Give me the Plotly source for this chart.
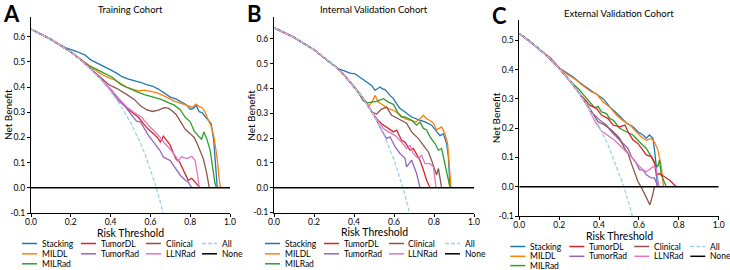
import plotly.graph_objects as go

# ---------------- data ----------------
MODELS = ["Stacking", "MILDL", "MILRad", "TumorDL", "TumorRad", "Clinical", "LLNRad"]
PANEL_TITLES = ["Training Cohort", "Internal Validation Cohort", "External Validation Cohort"]
PANEL_LETTERS = ["A", "B", "C"]
X_TICKS = [0.0, 0.2, 0.4, 0.6, 0.8, 1.0]
X_TICK_TEXT = ["0.0", "0.2", "0.4", "0.6", "0.8", "1.0"]
Y_TICKS_AB = [-0.1, 0.0, 0.1, 0.2, 0.3, 0.4, 0.5, 0.6]
Y_TICK_TEXT_AB = ["-0.1", "0.0", "0.1", "0.2", "0.3", "0.4", "0.5", "0.6"]
Y_TICKS_C = [-0.1, 0.0, 0.1, 0.2, 0.3, 0.4, 0.5]
Y_TICK_TEXT_C = ["-0.1", "0.0", "0.1", "0.2", "0.3", "0.4", "0.5"]

# ---- Panel A : Training cohort ----
A_ALL_T = [0, 0.05, 0.1, 0.15, 0.2, 0.25, 0.3, 0.35, 0.4, 0.45, 0.5, 0.525, 0.55, 0.575, 0.6, 0.625, 0.65, 0.665]
A_ALL_NB = [0.63, 0.611, 0.589, 0.565, 0.538, 0.507, 0.471, 0.431, 0.383, 0.327, 0.26, 0.221, 0.178, 0.129, 0.075, 0.013, -0.057, -0.104]

A_STACKING_T = [0, 0.1, 0.18, 0.23, 0.27, 0.3, 0.33, 0.36, 0.4, 0.43, 0.46, 0.49, 0.52, 0.55, 0.58, 0.61, 0.64, 0.67, 0.7, 0.73, 0.76, 0.78, 0.8, 0.815, 0.83, 0.845, 0.86, 0.875, 0.89, 0.905, 0.918, 0.926, 0.932, 0.936]
A_STACKING_NB = [0.63, 0.589, 0.554, 0.541, 0.528, 0.508, 0.496, 0.487, 0.468, 0.455, 0.44, 0.431, 0.426, 0.419, 0.41, 0.404, 0.392, 0.375, 0.36, 0.352, 0.338, 0.33, 0.312, 0.315, 0.327, 0.302, 0.298, 0.285, 0.268, 0.255, 0.19, 0.12, 0.05, 0.0]
A_MILDL_T = [0, 0.1, 0.2, 0.25, 0.3, 0.34, 0.38, 0.42, 0.45, 0.48, 0.51, 0.54, 0.57, 0.6, 0.63, 0.66, 0.69, 0.72, 0.75, 0.78, 0.81, 0.83, 0.845, 0.86, 0.875, 0.89, 0.905, 0.92, 0.935, 0.945, 0.952]
A_MILDL_NB = [0.63, 0.589, 0.539, 0.51, 0.478, 0.458, 0.44, 0.428, 0.415, 0.4, 0.392, 0.385, 0.388, 0.384, 0.378, 0.368, 0.356, 0.344, 0.336, 0.327, 0.32, 0.332, 0.322, 0.318, 0.3, 0.27, 0.245, 0.2, 0.12, 0.04, 0.0]
A_MILRAD_T = [0, 0.1, 0.2, 0.25, 0.29, 0.33, 0.37, 0.41, 0.45, 0.49, 0.53, 0.57, 0.61, 0.65, 0.69, 0.72, 0.75, 0.775, 0.8, 0.82, 0.84, 0.857, 0.869, 0.883, 0.9, 0.913, 0.924, 0.932]
A_MILRAD_NB = [0.63, 0.589, 0.539, 0.509, 0.485, 0.47, 0.455, 0.438, 0.41, 0.395, 0.382, 0.37, 0.362, 0.352, 0.338, 0.328, 0.31, 0.28, 0.262, 0.225, 0.207, 0.193, 0.222, 0.195, 0.15, 0.085, 0.02, 0.0]
A_TUMORDL_T = [0, 0.1, 0.2, 0.25, 0.3, 0.35, 0.4, 0.44, 0.48, 0.51, 0.54, 0.565, 0.59, 0.615, 0.635, 0.65, 0.665, 0.682, 0.698, 0.715, 0.73, 0.745, 0.76, 0.775, 0.79, 0.808, 0.825, 0.84, 0.85]
A_TUMORDL_NB = [0.63, 0.589, 0.539, 0.508, 0.473, 0.434, 0.39, 0.352, 0.318, 0.298, 0.28, 0.255, 0.232, 0.215, 0.2, 0.182, 0.205, 0.188, 0.172, 0.138, 0.112, 0.105, 0.08, 0.052, 0.03, 0.038, 0.022, 0.006, 0.0]
A_TUMORRAD_T = [0, 0.1, 0.2, 0.25, 0.3, 0.35, 0.4, 0.44, 0.47, 0.5, 0.53, 0.55, 0.57, 0.59, 0.615, 0.632, 0.648, 0.665, 0.682, 0.7, 0.715, 0.73, 0.75, 0.775, 0.79, 0.8, 0.81]
A_TUMORRAD_NB = [0.63, 0.589, 0.539, 0.508, 0.472, 0.433, 0.388, 0.345, 0.325, 0.295, 0.265, 0.262, 0.236, 0.208, 0.182, 0.162, 0.148, 0.122, 0.116, 0.108, 0.09, 0.072, 0.05, 0.03, 0.022, 0.01, 0.0]
A_CLINICAL_T = [0, 0.1, 0.2, 0.25, 0.3, 0.35, 0.39, 0.43, 0.46, 0.49, 0.52, 0.55, 0.58, 0.61, 0.64, 0.67, 0.69, 0.71, 0.73, 0.75, 0.775, 0.8, 0.82, 0.835, 0.85, 0.866, 0.883, 0.896]
A_CLINICAL_NB = [0.63, 0.589, 0.539, 0.508, 0.473, 0.437, 0.41, 0.395, 0.382, 0.366, 0.35, 0.326, 0.31, 0.303, 0.308, 0.318, 0.316, 0.305, 0.29, 0.262, 0.232, 0.215, 0.2, 0.175, 0.148, 0.116, 0.057, 0.0]
A_LLNRAD_T = [0, 0.1, 0.2, 0.25, 0.3, 0.35, 0.4, 0.44, 0.48, 0.52, 0.556, 0.59, 0.623, 0.648, 0.673, 0.698, 0.724, 0.74, 0.757, 0.782, 0.808, 0.824, 0.836, 0.846]
A_LLNRAD_NB = [0.63, 0.589, 0.539, 0.508, 0.473, 0.434, 0.392, 0.355, 0.322, 0.298, 0.28, 0.248, 0.221, 0.202, 0.175, 0.155, 0.128, 0.109, 0.123, 0.116, 0.125, 0.109, 0.056, 0.0]

# ---- Panel B : Internal validation cohort ----
B_ALL_T = [0, 0.05, 0.1, 0.15, 0.2, 0.25, 0.3, 0.35, 0.4, 0.45, 0.5, 0.55, 0.6, 0.625, 0.65, 0.677]
B_ALL_NB = [0.645, 0.626, 0.606, 0.582, 0.556, 0.527, 0.493, 0.454, 0.408, 0.355, 0.29, 0.211, 0.113, 0.053, -0.014, -0.1]

B_STACKING_T = [0, 0.1, 0.2, 0.3, 0.322, 0.355, 0.38, 0.405, 0.42, 0.438, 0.463, 0.488, 0.505, 0.518, 0.53, 0.542, 0.555, 0.58, 0.597, 0.613, 0.63, 0.655, 0.688, 0.722, 0.755, 0.788, 0.813, 0.83, 0.847, 0.863, 0.872, 0.877, 0.88]
B_STACKING_NB = [0.645, 0.606, 0.556, 0.493, 0.479, 0.47, 0.462, 0.459, 0.45, 0.439, 0.426, 0.412, 0.392, 0.4, 0.406, 0.398, 0.395, 0.372, 0.359, 0.339, 0.319, 0.305, 0.285, 0.274, 0.265, 0.252, 0.225, 0.21, 0.217, 0.178, 0.124, 0.057, 0.0]
B_MILDL_T = [0, 0.1, 0.2, 0.3, 0.35, 0.4, 0.45, 0.475, 0.49, 0.505, 0.522, 0.547, 0.572, 0.597, 0.622, 0.655, 0.688, 0.71, 0.73, 0.747, 0.763, 0.78, 0.797, 0.813, 0.838, 0.855, 0.868, 0.877, 0.885]
B_MILDL_NB = [0.645, 0.606, 0.556, 0.493, 0.454, 0.408, 0.355, 0.33, 0.345, 0.372, 0.345, 0.332, 0.319, 0.312, 0.299, 0.278, 0.271, 0.265, 0.278, 0.292, 0.278, 0.271, 0.26, 0.233, 0.245, 0.217, 0.178, 0.097, 0.0]
B_MILRAD_T = [0, 0.1, 0.2, 0.3, 0.35, 0.4, 0.42, 0.447, 0.47, 0.488, 0.513, 0.547, 0.572, 0.597, 0.622, 0.638, 0.655, 0.688, 0.713, 0.73, 0.747, 0.763, 0.78, 0.805, 0.822, 0.838, 0.855, 0.868, 0.88]
B_MILRAD_NB = [0.645, 0.606, 0.556, 0.493, 0.454, 0.408, 0.385, 0.35, 0.342, 0.345, 0.348, 0.359, 0.345, 0.336, 0.299, 0.285, 0.285, 0.272, 0.252, 0.265, 0.239, 0.233, 0.205, 0.178, 0.151, 0.158, 0.097, 0.043, 0.0]
B_TUMORDL_T = [0, 0.1, 0.2, 0.3, 0.35, 0.4, 0.45, 0.48, 0.505, 0.538, 0.572, 0.597, 0.613, 0.638, 0.655, 0.68, 0.697, 0.713, 0.73, 0.747, 0.763, 0.78]
B_TUMORDL_NB = [0.645, 0.606, 0.556, 0.493, 0.454, 0.408, 0.356, 0.318, 0.285, 0.258, 0.238, 0.225, 0.232, 0.191, 0.184, 0.151, 0.158, 0.137, 0.11, 0.071, 0.03, 0.0]
B_TUMORRAD_T = [0, 0.1, 0.2, 0.3, 0.35, 0.4, 0.45, 0.5, 0.538, 0.563, 0.58, 0.605, 0.63, 0.655, 0.663, 0.688, 0.713, 0.73]
B_TUMORRAD_NB = [0.645, 0.606, 0.556, 0.493, 0.454, 0.408, 0.355, 0.292, 0.232, 0.198, 0.205, 0.165, 0.138, 0.118, 0.084, 0.111, 0.057, 0.0]
B_CLINICAL_T = [0, 0.1, 0.2, 0.3, 0.35, 0.4, 0.45, 0.472, 0.49, 0.513, 0.538, 0.563, 0.588, 0.605, 0.638, 0.663, 0.688, 0.722, 0.747, 0.772, 0.788, 0.805, 0.813, 0.822, 0.83, 0.838]
B_CLINICAL_NB = [0.645, 0.606, 0.556, 0.493, 0.454, 0.408, 0.355, 0.33, 0.305, 0.297, 0.317, 0.325, 0.292, 0.285, 0.272, 0.26, 0.225, 0.198, 0.171, 0.144, 0.11, 0.071, 0.051, 0.078, 0.037, 0.0]
B_LLNRAD_T = [0, 0.1, 0.2, 0.3, 0.35, 0.4, 0.45, 0.48, 0.513, 0.547, 0.572, 0.605, 0.638, 0.663, 0.68, 0.697, 0.722, 0.738, 0.755, 0.78, 0.797, 0.805, 0.81]
B_LLNRAD_NB = [0.645, 0.606, 0.556, 0.493, 0.454, 0.408, 0.356, 0.32, 0.279, 0.238, 0.225, 0.211, 0.184, 0.158, 0.171, 0.137, 0.117, 0.131, 0.097, 0.097, 0.083, 0.023, 0.0]

# ---- Panel C : External validation cohort ----
C_ALL_T = [0, 0.05, 0.1, 0.15, 0.2, 0.25, 0.3, 0.35, 0.4, 0.45, 0.5, 0.525, 0.55, 0.567]
C_ALL_NB = [0.524, 0.499, 0.471, 0.44, 0.405, 0.365, 0.32, 0.268, 0.207, 0.135, 0.048, -0.002, -0.058, -0.1]

C_STACKING_T = [0, 0.05, 0.1, 0.153, 0.203, 0.24, 0.27, 0.3, 0.32, 0.345, 0.37, 0.395, 0.42, 0.44, 0.453, 0.478, 0.503, 0.52, 0.537, 0.57, 0.595, 0.62, 0.637, 0.653, 0.67, 0.678, 0.687, 0.692]
C_STACKING_NB = [0.524, 0.5, 0.468, 0.443, 0.405, 0.388, 0.375, 0.358, 0.347, 0.336, 0.324, 0.313, 0.301, 0.285, 0.273, 0.258, 0.242, 0.23, 0.218, 0.205, 0.188, 0.177, 0.166, 0.177, 0.166, 0.126, 0.069, 0.0]
C_MILDL_T = [0, 0.05, 0.1, 0.15, 0.2, 0.237, 0.262, 0.287, 0.31, 0.337, 0.36, 0.387, 0.42, 0.453, 0.487, 0.52, 0.555, 0.587, 0.612, 0.637, 0.662, 0.678, 0.695, 0.712, 0.72, 0.723]
C_MILDL_NB = [0.524, 0.499, 0.471, 0.44, 0.405, 0.386, 0.375, 0.364, 0.35, 0.335, 0.325, 0.318, 0.29, 0.273, 0.245, 0.226, 0.211, 0.188, 0.17, 0.159, 0.165, 0.153, 0.126, 0.069, 0.014, 0.0]
C_MILRAD_T = [0, 0.05, 0.1, 0.15, 0.2, 0.25, 0.27, 0.303, 0.33, 0.353, 0.378, 0.395, 0.412, 0.437, 0.453, 0.47, 0.503, 0.537, 0.57, 0.603, 0.637, 0.662, 0.678, 0.695, 0.703, 0.712, 0.728, 0.737]
C_MILRAD_NB = [0.524, 0.499, 0.471, 0.44, 0.405, 0.365, 0.352, 0.33, 0.308, 0.29, 0.27, 0.275, 0.256, 0.25, 0.233, 0.228, 0.2, 0.188, 0.177, 0.153, 0.131, 0.103, 0.08, 0.069, 0.092, 0.041, 0.014, 0.0]
C_TUMORDL_T = [0, 0.05, 0.1, 0.15, 0.2, 0.25, 0.3, 0.33, 0.353, 0.387, 0.412, 0.445, 0.47, 0.503, 0.53, 0.545, 0.57, 0.595, 0.612, 0.637, 0.662, 0.678, 0.687, 0.703, 0.728, 0.753, 0.778, 0.787]
C_TUMORDL_NB = [0.524, 0.499, 0.471, 0.44, 0.405, 0.365, 0.32, 0.298, 0.279, 0.268, 0.245, 0.233, 0.211, 0.205, 0.211, 0.188, 0.16, 0.148, 0.131, 0.109, 0.103, 0.085, 0.04, 0.045, 0.034, 0.023, 0.006, 0.0]
C_TUMORRAD_T = [0, 0.05, 0.1, 0.15, 0.2, 0.25, 0.3, 0.35, 0.37, 0.403, 0.437, 0.462, 0.487, 0.52, 0.545, 0.562, 0.587, 0.603, 0.62, 0.637, 0.662, 0.678, 0.687, 0.695]
C_TUMORRAD_NB = [0.524, 0.499, 0.471, 0.44, 0.405, 0.365, 0.32, 0.268, 0.25, 0.228, 0.211, 0.188, 0.17, 0.148, 0.131, 0.103, 0.08, 0.058, 0.058, 0.041, 0.03, 0.03, 0.014, 0.0]
C_CLINICAL_T = [0, 0.05, 0.1, 0.15, 0.2, 0.25, 0.3, 0.35, 0.395, 0.428, 0.462, 0.487, 0.503, 0.528, 0.545, 0.562, 0.578, 0.595, 0.612, 0.633, 0.655, 0.668, 0.678]
C_CLINICAL_NB = [0.524, 0.499, 0.471, 0.44, 0.405, 0.365, 0.32, 0.27, 0.222, 0.211, 0.194, 0.177, 0.165, 0.131, 0.114, 0.08, 0.052, 0.018, -0.002, -0.03, -0.062, -0.03, 0.0]
C_LLNRAD_T = [0, 0.05, 0.1, 0.15, 0.2, 0.25, 0.3, 0.35, 0.378, 0.412, 0.453, 0.478, 0.503, 0.528, 0.545, 0.57, 0.603, 0.62, 0.637, 0.653, 0.67, 0.687, 0.695, 0.7]
C_LLNRAD_NB = [0.524, 0.499, 0.471, 0.44, 0.405, 0.365, 0.32, 0.265, 0.225, 0.19, 0.171, 0.159, 0.142, 0.125, 0.114, 0.097, 0.069, 0.058, 0.052, 0.058, 0.069, 0.063, 0.023, 0.0]

NONE_T = [0.0, 1.0]
NONE_NB = [0.0, 0.0]

PANELS = [
    {"all": (A_ALL_T, A_ALL_NB), "models": {
        "Stacking": (A_STACKING_T, A_STACKING_NB), "MILDL": (A_MILDL_T, A_MILDL_NB),
        "MILRad": (A_MILRAD_T, A_MILRAD_NB), "TumorDL": (A_TUMORDL_T, A_TUMORDL_NB),
        "TumorRad": (A_TUMORRAD_T, A_TUMORRAD_NB), "Clinical": (A_CLINICAL_T, A_CLINICAL_NB),
        "LLNRad": (A_LLNRAD_T, A_LLNRAD_NB)}},
    {"all": (B_ALL_T, B_ALL_NB), "models": {
        "Stacking": (B_STACKING_T, B_STACKING_NB), "MILDL": (B_MILDL_T, B_MILDL_NB),
        "MILRad": (B_MILRAD_T, B_MILRAD_NB), "TumorDL": (B_TUMORDL_T, B_TUMORDL_NB),
        "TumorRad": (B_TUMORRAD_T, B_TUMORRAD_NB), "Clinical": (B_CLINICAL_T, B_CLINICAL_NB),
        "LLNRad": (B_LLNRAD_T, B_LLNRAD_NB)}},
    {"all": (C_ALL_T, C_ALL_NB), "models": {
        "Stacking": (C_STACKING_T, C_STACKING_NB), "MILDL": (C_MILDL_T, C_MILDL_NB),
        "MILRad": (C_MILRAD_T, C_MILRAD_NB), "TumorDL": (C_TUMORDL_T, C_TUMORDL_NB),
        "TumorRad": (C_TUMORRAD_T, C_TUMORRAD_NB), "Clinical": (C_CLINICAL_T, C_CLINICAL_NB),
        "LLNRad": (C_LLNRAD_T, C_LLNRAD_NB)}},
]

# ---------------- style ----------------
W, H = 730, 270
FONT = "Lato"
COLORS = {"Stacking": "#1f77b4", "MILDL": "#ff7f0e", "MILRad": "#2ca02c", "TumorDL": "#d62728",
          "TumorRad": "#9467bd", "Clinical": "#8c564b", "LLNRad": "#e377c2"}
ALL_COLOR = "#9fd2e6"
LW = 1.3

# panel geometry in pixels: x0, x1, ytop, ybottom, ymax
GEOM = [
    (31, 230, 17, 213, 0.678),
    (274, 474, 17, 212.5, 0.688),
    (519.3, 718.7, 20, 216, 0.57),
]
LEGEND_ROWS = [[243.5, 253.8, 263.8], [243.5, 253.8, 263.8], [246.5, 256.3, 265.6]]
LEG_COL_OFF = [-9, 50, 115, 171]


def px(x):
    return x / W


def py(y):
    return 1 - y / H


fig = go.Figure()
layout = dict(width=W, height=H, autosize=False, margin=dict(l=0, r=0, t=0, b=0, pad=0, autoexpand=False),
              paper_bgcolor="white", plot_bgcolor="white", showlegend=False,
              font=dict(family=FONT, size=8.5, color="black"))
annotations = []
shapes = []

for i, panel in enumerate(PANELS):
    x0, x1, yt, yb, ymax = GEOM[i]
    sfx = "" if i == 0 else str(i + 1)
    xa, ya = "x" + sfx, "y" + sfx
    for m in MODELS:
        t, nb = panel["models"][m]
        fig.add_trace(go.Scatter(x=t, y=nb, mode="lines", name=m, xaxis=xa, yaxis=ya,
                                 line=dict(color=COLORS[m], width=LW)))
    t, nb = panel["all"]
    fig.add_trace(go.Scatter(x=t, y=nb, mode="lines", name="All", xaxis=xa, yaxis=ya,
                             line=dict(color=ALL_COLOR, width=LW, dash="4px,2px")))
    fig.add_trace(go.Scatter(x=NONE_T, y=NONE_NB, mode="lines", name="None", xaxis=xa, yaxis=ya,
                             line=dict(color="black", width=1.5)))

    yt_vals = Y_TICKS_C if i == 2 else Y_TICKS_AB
    yt_text = Y_TICK_TEXT_C if i == 2 else Y_TICK_TEXT_AB
    layout["xaxis" + sfx] = dict(domain=[px(x0), px(x1)], range=[0, 1], anchor=ya, automargin=False,
                                 showline=True, linecolor="black", linewidth=1, mirror=False,
                                 ticks="outside", ticklen=3, tickwidth=1, tickcolor="black",
                                 tickvals=X_TICKS, ticktext=X_TICK_TEXT, showgrid=False,
                                 zeroline=False, tickfont=dict(size=8.5), ticklabelstandoff=-2)
    layout["yaxis" + sfx] = dict(domain=[py(yb), py(yt)], range=[-0.1, ymax], anchor=xa, automargin=False,
                                 showline=True, linecolor="black", linewidth=1, mirror=False,
                                 ticks="outside", ticklen=3, tickwidth=1, tickcolor="black",
                                 tickvals=yt_vals, ticktext=yt_text, showgrid=False,
                                 zeroline=False, tickfont=dict(size=8.5))

    cx = (x0 + x1) / 2
    ty = 10 if i < 2 else 14
    annotations.append(dict(text=PANEL_TITLES[i], x=px(cx), y=py(ty), xref="paper", yref="paper",
                            showarrow=False, xanchor="center", yanchor="middle",
                            font=dict(size=9.5)))
    annotations.append(dict(text="<b>%s</b>" % PANEL_LETTERS[i], x=px(x0 - 20), y=py(yt - 4),
                            xref="paper", yref="paper", showarrow=False,
                            xanchor="center", yanchor="middle", font=dict(size=22)))
    annotations.append(dict(text="Net Benefit", x=px(x0 - 23), y=py((yt + yb) / 2),
                            xref="paper", yref="paper", showarrow=False, textangle=-90,
                            xanchor="center", yanchor="middle", font=dict(size=10)))
    annotations.append(dict(text="Risk Threshold", x=px(cx), y=py(yb + 19.5),
                            xref="paper", yref="paper", showarrow=False,
                            xanchor="center", yanchor="middle", font=dict(size=10.5)))

    # legend: matplotlib style, 4 columns filled column-wise
    entries = MODELS + ["All", "None"]
    cols = [0, 0, 0, 1, 1, 2, 2, 3, 3]
    rows = [0, 1, 2, 0, 1, 0, 1, 0, 1]
    for name, c, r in zip(entries, cols, rows):
        lx = x0 + LEG_COL_OFF[c]
        ly = LEGEND_ROWS[i][r]
        if name == "All":
            ln = dict(color=ALL_COLOR, width=LW, dash="4px,2px")
        elif name == "None":
            ln = dict(color="black", width=1.5)
        else:
            ln = dict(color=COLORS[name], width=1.5)
        shapes.append(dict(type="line", xref="paper", yref="paper",
                           x0=px(lx), x1=px(lx + 15), y0=py(ly), y1=py(ly), line=ln))
        annotations.append(dict(text=name, x=px(lx + 17.5), y=py(ly), xref="paper", yref="paper",
                                showarrow=False, xanchor="left", yanchor="middle",
                                font=dict(size=8.5)))

layout["annotations"] = annotations
layout["shapes"] = shapes
fig.update_layout(**layout)
fig.write_html("out.html")
